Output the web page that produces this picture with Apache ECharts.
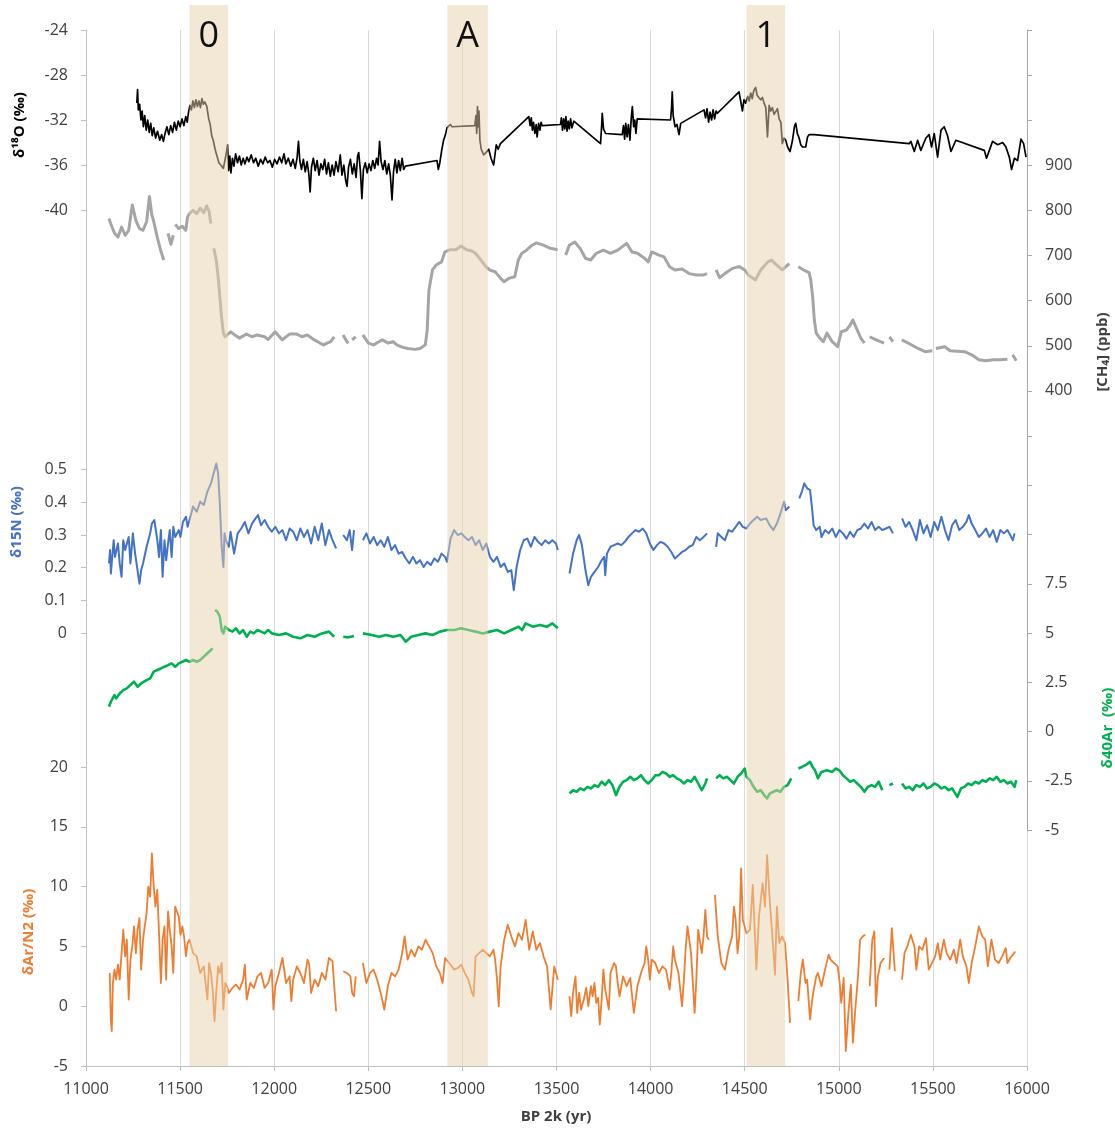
<!DOCTYPE html>
<html>
<head>
<meta charset="utf-8">
<title>Ice core records 11000-16000 BP</title>
<script src="https://cdn.jsdelivr.net/npm/echarts@6.0.0/dist/echarts.min.js"></script>
<style>
  html, body { margin: 0; padding: 0; background: #fff; }
  #container { width: 1115px; height: 1131px; }
</style>
</head>
<body>
<div id="container"></div>
<script>
// shaded events (years BP 2k) and their labels
var bandRanges = [[11550, 11755], [12920, 13135], [14510, 14715]];
var bandLabels = ['0', 'A', '1'];

var xTicks = [11000, 16000, 500];

// d18O (permil), black
var d18O = [
  [11270,-30.5],[11274,-29.3],[11278,-31.1],[11285,-30.6],[11292,-32.0],[11298,-31.2],[11305,-32.6],[11312,-31.6],
  [11320,-32.9],[11328,-32.0],[11336,-33.1],[11344,-32.3],[11352,-33.4],[11360,-32.7],[11370,-33.6],[11380,-33.0],
  [11392,-33.8],[11402,-33.3],[11411,-33.9],[11420,-33.2],[11430,-32.6],[11440,-33.3],[11450,-32.5],[11460,-33.1],
  [11470,-32.2],[11480,-32.9],[11490,-32.1],[11500,-32.6],[11510,-31.9],[11520,-32.5],[11530,-31.7],[11538,-32.2],
  [11544,-31.4],[11552,-30.7],[11560,-31.1],[11568,-30.3],[11576,-30.9],[11584,-30.2],[11592,-30.8],[11600,-30.3],
  [11608,-30.9],[11616,-30.1],[11624,-30.6],[11632,-30.4],[11642,-30.8],[11652,-31.9],[11660,-32.4],[11668,-33.4],
  [11676,-33.8],[11686,-34.6],[11696,-35.2],[11706,-35.8],[11716,-36.0],[11730,-36.3],[11739,-36.3],[11745,-35.0],
  [11752,-34.2],[11758,-36.5],[11764,-35.2],[11770,-36.7],[11778,-35.4],[11786,-36.1],[11795,-35.0],[11805,-35.8],
  [11815,-35.2],[11825,-36.0],[11835,-35.4],[11845,-35.9],[11855,-35.3],[11865,-35.7],[11878,-35.1],[11890,-35.8],
  [11902,-35.4],[11915,-36.1],[11928,-35.5],[11940,-35.9],[11952,-35.3],[11965,-35.8],[11978,-35.6],[11990,-36.2],
  [12002,-35.5],[12015,-35.9],[12028,-35.3],[12040,-35.8],[12052,-35.0],[12062,-35.9],[12075,-35.4],[12088,-36.1],
  [12100,-35.5],[12112,-36.3],[12122,-35.3],[12129,-33.9],[12136,-35.6],[12145,-36.4],[12155,-35.5],[12165,-36.6],
  [12175,-35.7],[12184,-36.8],[12191,-38.4],[12198,-36.2],[12208,-35.4],[12218,-36.5],[12228,-35.6],[12238,-36.9],
  [12248,-35.9],[12258,-36.4],[12268,-35.5],[12278,-36.8],[12288,-35.8],[12298,-37.0],[12308,-36.0],[12318,-36.9],
  [12328,-35.7],[12340,-36.6],[12351,-35.1],[12360,-36.9],[12370,-36.0],[12380,-37.4],[12387,-37.9],[12395,-36.2],
  [12405,-35.5],[12415,-36.8],[12425,-35.9],[12435,-37.1],[12443,-35.2],[12449,-34.9],[12458,-36.5],[12466,-39.0],
  [12474,-36.4],[12484,-35.8],[12494,-36.7],[12504,-35.9],[12514,-36.5],[12524,-35.6],[12534,-36.3],[12544,-35.4],
  [12552,-36.0],[12560,-33.9],[12568,-35.7],[12578,-36.4],[12588,-35.6],[12598,-36.8],[12608,-35.9],[12617,-36.9],
  [12626,-39.1],[12634,-36.6],[12643,-35.5],[12652,-36.7],[12661,-35.6],[12670,-36.5],[12680,-35.4],[12688,-36.4],
  [12697,-36.1],[12865,-35.6],[12872,-36.4],[12880,-35.8],[12890,-34.7],[12900,-33.8],[12910,-33.3],[12918,-32.7],
  [12936,-32.4],[12945,-32.6],[13066,-32.5],[13072,-31.6],[13076,-33.2],[13080,-30.8],[13084,-32.6],[13088,-31.2],
  [13093,-33.8],[13100,-34.6],[13113,-35.1],[13125,-34.9],[13140,-34.6],[13152,-35.4],[13166,-36.0],[13180,-34.2],
  [13190,-34.6],[13202,-34.1],[13353,-31.7],[13360,-32.5],[13366,-31.8],[13372,-32.9],[13378,-32.2],[13385,-33.2],
  [13392,-32.4],[13397,-33.5],[13405,-32.3],[13412,-32.9],[13418,-32.2],[13424,-32.5],[13521,-32.4],[13526,-31.8],
  [13532,-32.9],[13538,-31.9],[13544,-32.8],[13550,-31.7],[13556,-33.0],[13562,-32.1],[13568,-32.8],[13575,-31.9],
  [13582,-32.7],[13592,-32.1],[13734,-34.1],[13740,-32.5],[13743,-31.4],[13750,-32.8],[13761,-33.2],[13849,-33.3],
  [13856,-32.5],[13862,-33.7],[13868,-32.3],[13875,-33.5],[13882,-32.4],[13890,-33.8],[13897,-31.9],[13903,-30.8],
  [13910,-32.6],[13916,-32.0],[13922,-33.2],[13929,-31.9],[14106,-32.0],[14111,-31.0],[14115,-29.5],[14120,-31.6],
  [14130,-32.6],[14140,-32.4],[14151,-33.3],[14160,-32.3],[14284,-31.1],[14292,-31.8],[14300,-31.0],[14308,-32.2],
  [14316,-31.3],[14324,-32.0],[14332,-31.1],[14340,-31.9],[14348,-31.2],[14355,-31.4],[14470,-29.5],[14479,-29.6],
  [14488,-31.2],[14496,-30.2],[14505,-30.5],[14509,-30.4],[14516,-29.9],[14524,-30.3],[14532,-29.6],[14540,-30.1],
  [14548,-29.4],[14558,-29.1],[14566,-29.8],[14575,-30.0],[14585,-30.2],[14594,-30.0],[14603,-30.5],[14612,-30.9],
  [14621,-33.5],[14630,-30.7],[14638,-31.2],[14647,-30.9],[14656,-31.5],[14665,-31.6],[14674,-31.0],[14683,-31.9],
  [14692,-32.2],[14700,-34.1],[14709,-33.6],[14718,-33.8],[14728,-34.4],[14741,-34.8],[14754,-33.8],[14764,-32.6],
  [14771,-32.3],[14780,-33.2],[14789,-33.6],[14798,-34.2],[14807,-34.4],[14816,-34.5],[14824,-34.4],[14834,-33.5],
  [14842,-33.3],[14855,-33.3],[14869,-33.3],[15374,-34.1],[15383,-33.9],[15401,-34.8],[15419,-33.8],[15436,-34.7],
  [15463,-33.6],[15480,-33.3],[15493,-34.4],[15507,-33.2],[15525,-35.3],[15543,-32.9],[15560,-32.6],[15578,-33.4],
  [15596,-34.8],[15622,-33.8],[15773,-34.7],[15785,-35.4],[15817,-33.9],[15844,-34.2],[15871,-34.0],[15888,-34.4],
  [15906,-35.3],[15918,-36.4],[15933,-35.4],[15950,-35.6],[15968,-33.7],[15982,-34.1],[15995,-35.3]
];

// [CH4] (ppb), grey
var ch4 = [
  [11122,782],[11131,771],[11151,750],[11170,741],[11189,763],[11208,745],[11227,756],[11246,812],[11265,778],
  [11284,760],[11303,756],[11322,775],[11337,831],[11350,790],[11360,775],[11379,740],[11398,710],[11413,690],
  [11425,null],[11436,749],[11451,725],[11464,745],[11468,null],[11474,769],[11493,760],[11512,765],[11530,756],
  [11540,786],[11550,793],[11569,800],[11588,793],[11607,805],[11626,795],[11641,810],[11654,798],[11663,771],
  [11670,null],[11679,716],[11692,690],[11702,653],[11711,610],[11720,564],[11730,528],[11739,520],[11768,531],
  [11797,522],[11815,517],[11853,526],[11882,520],[11910,524],[11949,520],[11967,514],[12005,531],[12043,513],
  [12081,526],[12119,526],[12148,520],[12176,524],[12214,513],[12243,506],[12262,502],[12281,506],[12300,509],
  [12319,520],[12340,null],[12366,524],[12385,510],[12395,506],[12405,null],[12414,513],[12433,520],[12450,null],
  [12471,524],[12500,506],[12528,502],[12556,509],[12575,513],[12604,506],[12632,509],[12651,502],[12680,497],
  [12709,494],[12747,492],[12775,494],[12803,502],[12813,535],[12822,623],[12841,668],[12860,679],[12889,686],
  [12907,708],[12936,713],[12965,713],[12993,721],[13022,713],[13050,710],[13069,705],[13098,690],[13126,675],
  [13145,668],[13174,664],[13202,650],[13221,642],[13250,650],[13278,653],[13297,690],[13316,705],[13335,710],
  [13364,721],[13392,728],[13430,723],[13468,716],[13506,713],[13530,null],
  [13549,701],[13568,723],[13597,730],[13625,716],[13654,694],[13682,690],[13711,705],[13749,712],[13787,705],
  [13825,712],[13873,727],[13901,708],[13930,705],[13968,694],[13987,686],[14006,708],[14044,701],[14072,697],
  [14101,675],[14129,668],[14167,670],[14205,660],[14243,657],[14281,657],[14300,660],[14320,null],[14348,668],
  [14367,651],[14395,660],[14433,671],[14471,676],[14500,668],[14519,657],[14557,646],[14585,668],[14623,686],
  [14642,690],[14671,679],[14699,668],[14737,682],[14755,null],[14785,675],[14813,668],[14842,662],[14851,646],
  [14861,609],[14870,557],[14880,528],[14899,517],[14918,509],[14937,528],[14965,509],[14994,498],[15013,531],
  [15041,535],[15060,546],[15075,557],[15098,535],[15117,517],[15136,506],[15150,null],[15164,520],[15193,514],
  [15221,509],[15240,506],[15255,null],[15269,520],[15288,509],[15310,null],[15335,513],[15373,505],[15421,494],
  [15459,487],[15497,489],[15507,null],[15516,494],[15563,498],[15592,489],[15630,488],[15668,487],[15706,480],
  [15744,469],[15782,467],[15820,469],[15858,469],[15896,470],[15910,null],[15924,480],[15943,467]
];

// d15N (permil), blue
var d15N = [
  [11122,0.213],[11128,0.254],[11132,0.182],[11147,0.284],[11154,0.233],[11170,0.274],[11179,0.213],[11189,0.172],
  [11198,0.284],[11208,0.254],[11227,0.294],[11236,0.213],[11249,0.305],[11261,0.243],[11274,0.192],[11284,0.151],
  [11293,0.192],[11303,0.213],[11322,0.264],[11341,0.305],[11350,0.335],[11363,0.346],[11379,0.284],[11388,0.233],
  [11398,0.315],[11407,0.172],[11417,0.284],[11426,0.223],[11436,0.274],[11445,0.315],[11455,0.233],[11464,0.325],
  [11474,0.294],[11493,0.315],[11502,0.294],[11515,0.340],[11531,0.356],[11540,0.325],[11550,0.346],[11569,0.387],
  [11588,0.371],[11607,0.402],[11626,0.392],[11645,0.433],[11664,0.458],[11683,0.499],[11692,0.519],[11702,0.489],
  [11711,0.397],[11721,0.264],[11730,0.202],[11736,0.305],[11743,0.284],[11759,0.264],[11768,0.310],[11787,0.243],
  [11806,0.305],[11825,0.320],[11844,0.340],[11863,0.305],[11882,0.335],[11901,0.351],[11914,0.361],[11930,0.330],
  [11949,0.346],[11968,0.325],[11987,0.310],[12006,0.325],[12025,0.305],[12044,0.315],[12063,0.284],[12082,0.320],
  [12101,0.310],[12120,0.284],[12139,0.320],[12158,0.294],[12177,0.315],[12196,0.274],[12215,0.325],[12234,0.284],
  [12253,0.335],[12272,0.269],[12291,0.315],[12310,0.284],[12329,0.259],[12340,null],[12367,0.300],[12386,0.284],
  [12401,0.315],[12414,0.254],[12424,0.315],[12440,null],[12471,0.284],[12490,0.305],[12509,0.274],[12528,0.294],
  [12547,0.269],[12566,0.284],[12585,0.264],[12604,0.294],[12623,0.254],[12642,0.269],[12661,0.243],[12680,0.248],
  [12699,0.228],[12718,0.213],[12737,0.233],[12756,0.213],[12775,0.223],[12794,0.202],[12813,0.218],[12832,0.208],
  [12851,0.228],[12870,0.218],[12889,0.243],[12908,0.233],[12918,0.218],[12937,0.289],[12956,0.315],[12975,0.300],
  [12994,0.305],[13013,0.294],[13032,0.284],[13051,0.294],[13070,0.269],[13089,0.284],[13108,0.254],[13127,0.274],
  [13146,0.233],[13165,0.218],[13184,0.233],[13203,0.202],[13222,0.213],[13241,0.187],[13260,0.192],[13273,0.131],
  [13288,0.202],[13307,0.254],[13326,0.284],[13345,0.289],[13364,0.264],[13383,0.294],[13402,0.279],[13421,0.269],
  [13440,0.284],[13459,0.274],[13478,0.284],[13497,0.274],[13507,0.254],[13540,null],
  [13569,0.182],[13588,0.243],[13607,0.284],[13620,0.300],[13635,0.269],[13645,0.274],[13654,0.192],[13669,0.146],
  [13683,0.172],[13702,0.187],[13721,0.202],[13740,0.223],[13753,0.233],[13759,0.177],[13768,0.243],[13787,0.264],
  [13806,0.269],[13825,0.274],[13844,0.269],[13863,0.279],[13882,0.294],[13901,0.305],[13920,0.315],[13939,0.310],
  [13958,0.320],[13977,0.305],[13996,0.274],[14015,0.254],[14034,0.269],[14053,0.279],[14072,0.274],[14091,0.264],
  [14110,0.248],[14129,0.228],[14148,0.238],[14167,0.248],[14186,0.254],[14205,0.264],[14224,0.269],[14243,0.294],
  [14262,0.284],[14281,0.294],[14300,0.305],[14320,null],[14348,0.264],[14357,0.305],[14376,0.294],[14395,0.284],
  [14414,0.315],[14433,0.310],[14452,0.325],[14471,0.340],[14490,0.325],[14509,0.320],[14528,0.335],[14547,0.346],
  [14566,0.356],[14585,0.346],[14614,0.351],[14633,0.330],[14652,0.315],[14671,0.335],[14690,0.366],[14709,0.402],
  [14718,0.376],[14737,0.387],[14755,null],[14790,0.412],[14804,0.433],[14817,0.458],[14832,0.443],[14847,0.438],
  [14857,0.387],[14866,0.330],[14880,0.315],[14899,0.325],[14908,0.294],[14927,0.315],[14946,0.305],[14965,0.320],
  [14984,0.294],[15003,0.315],[15022,0.305],[15041,0.289],[15060,0.310],[15079,0.294],[15098,0.315],[15117,0.320],
  [15136,0.335],[15155,0.320],[15174,0.340],[15193,0.315],[15212,0.325],[15231,0.315],[15250,0.320],[15269,0.325],
  [15288,0.305],[15310,null],[15336,0.351],[15355,0.325],[15374,0.340],[15393,0.315],[15412,0.284],[15431,0.346],
  [15450,0.305],[15469,0.330],[15488,0.294],[15507,0.340],[15526,0.315],[15545,0.356],[15564,0.315],[15583,0.284],
  [15602,0.330],[15621,0.346],[15640,0.315],[15659,0.325],[15678,0.340],[15691,0.361],[15706,0.335],[15725,0.315],
  [15744,0.294],[15763,0.305],[15782,0.320],[15801,0.294],[15820,0.315],[15839,0.279],[15858,0.315],[15877,0.305],
  [15896,0.315],[15911,0.300],[15925,0.284],[15934,0.305]
];

// d40Ar (permil), green
var d40Ar = [
  [11122,1.26],[11132,1.51],[11151,1.85],[11160,1.68],[11179,1.93],[11198,2.10],[11217,2.19],[11236,2.36],
  [11255,2.53],[11274,2.27],[11293,2.44],[11322,2.61],[11341,2.70],[11360,3.04],[11379,3.12],[11398,3.20],
  [11417,3.29],[11436,3.37],[11455,3.46],[11474,3.29],[11493,3.46],[11512,3.54],[11531,3.63],[11550,3.54],
  [11569,3.63],[11588,3.54],[11607,3.63],[11626,3.80],[11645,3.97],[11664,4.14],[11673,4.22],[11680,null],
  [11686,6.17],[11698,6.08],[11711,5.83],[11721,5.15],[11730,4.98],[11740,5.32],[11759,5.15],[11778,5.07],
  [11797,5.24],[11816,4.98],[11835,5.15],[11854,4.81],[11873,5.07],[11892,4.98],[11911,5.15],[11930,5.07],
  [11949,4.98],[11968,5.15],[11987,4.98],[12025,4.90],[12063,4.98],[12101,4.81],[12139,4.73],[12177,4.90],
  [12215,4.81],[12253,4.98],[12291,5.07],[12319,4.81],[12340,null],[12367,4.81],[12395,4.78],[12424,4.85],
  [12445,null],[12471,4.98],[12519,4.90],[12557,4.81],[12595,4.90],[12633,4.81],[12671,4.90],[12699,4.56],
  [12728,4.81],[12766,4.90],[12804,4.98],[12842,4.90],[12880,5.07],[12918,5.15],[12956,5.15],[12994,5.24],
  [13032,5.15],[13070,5.07],[13108,4.98],[13146,5.07],[13184,5.15],[13222,4.98],[13260,5.15],[13298,5.32],
  [13317,5.15],[13336,5.49],[13374,5.32],[13412,5.41],[13450,5.32],[13478,5.49],[13507,5.24],[13540,null],
  [13569,-3.15],[13588,-2.98],[13607,-3.06],[13626,-2.89],[13645,-2.98],[13664,-2.81],[13683,-2.89],[13702,-2.72],
  [13721,-2.81],[13740,-2.55],[13759,-2.72],[13778,-2.47],[13797,-2.72],[13816,-3.23],[13835,-2.81],[13854,-2.55],
  [13873,-2.47],[13892,-2.30],[13911,-2.47],[13930,-2.38],[13949,-2.22],[13968,-2.47],[13987,-2.64],[14006,-2.47],
  [14025,-2.22],[14044,-2.22],[14063,-2.05],[14082,-2.13],[14101,-2.30],[14120,-2.22],[14139,-2.38],[14158,-2.47],
  [14177,-2.64],[14196,-2.47],[14215,-2.55],[14234,-2.30],[14253,-2.64],[14272,-2.98],[14291,-2.64],[14300,-2.38],
  [14320,null],[14348,-2.38],[14367,-2.22],[14386,-2.38],[14405,-2.30],[14424,-2.47],[14443,-2.64],[14462,-2.30],
  [14481,-2.13],[14500,-1.88],[14509,-2.30],[14528,-2.47],[14547,-2.81],[14566,-3.06],[14585,-2.98],[14604,-3.23],
  [14619,-3.40],[14633,-3.15],[14652,-3.06],[14671,-2.98],[14690,-3.06],[14709,-2.81],[14728,-2.72],[14747,-2.38],
  [14760,null],[14785,-1.88],[14804,-1.80],[14823,-1.71],[14847,-1.54],[14861,-1.80],[14874,-1.97],[14889,-2.38],
  [14908,-2.05],[14937,-1.97],[14965,-2.05],[14984,-1.88],[15003,-1.97],[15022,-2.22],[15041,-2.38],[15060,-2.55],
  [15079,-2.47],[15098,-2.64],[15117,-2.81],[15136,-3.06],[15155,-2.81],[15174,-2.72],[15193,-2.81],[15212,-2.55],
  [15231,-2.98],[15245,null],[15269,-2.72],[15288,-2.64],[15300,null],[15336,-2.64],[15355,-2.89],[15374,-2.81],
  [15393,-2.98],[15412,-2.72],[15431,-2.81],[15450,-2.64],[15469,-2.89],[15488,-2.81],[15507,-2.64],[15526,-2.72],
  [15545,-2.89],[15564,-2.81],[15583,-2.98],[15602,-2.89],[15630,-3.32],[15649,-2.89],[15668,-2.81],[15687,-2.64],
  [15706,-2.72],[15725,-2.55],[15744,-2.64],[15763,-2.47],[15782,-2.55],[15801,-2.38],[15820,-2.47],[15839,-2.30],
  [15858,-2.55],[15877,-2.47],[15896,-2.64],[15915,-2.55],[15934,-2.81],[15943,-2.47]
];

// dAr/N2 (permil), orange
var dArN2 = [
  [11126,2.78],[11132,-1.11],[11137,-2.08],[11143,1.94],[11151,3.06],[11160,2.22],[11170,3.47],[11179,2.22],
  [11189,4.44],[11198,6.39],[11208,4.17],[11217,5.56],[11227,0.56],[11236,3.89],[11246,5.00],[11255,6.67],
  [11265,4.44],[11274,6.39],[11284,7.36],[11293,3.06],[11303,5.56],[11312,6.67],[11322,7.78],[11331,10.0],
  [11341,9.17],[11350,12.78],[11360,10.0],[11369,8.33],[11379,9.72],[11388,6.11],[11398,1.94],[11407,5.56],
  [11417,6.67],[11426,2.22],[11436,7.92],[11445,6.39],[11455,5.00],[11464,2.78],[11474,8.33],[11483,7.92],
  [11493,7.50],[11502,5.97],[11512,6.67],[11521,5.83],[11531,4.17],[11540,5.28],[11550,5.56],[11569,4.44],
  [11588,4.17],[11607,2.78],[11626,3.33],[11635,1.94],[11645,0.56],[11654,3.61],[11664,2.78],[11673,1.39],
  [11683,-1.25],[11692,1.11],[11702,3.33],[11711,2.78],[11721,3.61],[11730,-0.28],[11740,1.94],[11749,1.67],
  [11759,1.11],[11778,1.53],[11797,1.81],[11816,1.39],[11835,2.22],[11844,3.47],[11854,0.56],[11873,1.94],
  [11892,1.53],[11911,2.50],[11930,2.78],[11949,1.53],[11968,1.94],[11987,3.06],[11996,-0.28],[12006,1.67],
  [12025,2.78],[12044,4.03],[12063,1.94],[12082,2.50],[12091,0.42],[12101,2.22],[12120,3.33],[12139,2.78],
  [12158,1.94],[12177,3.89],[12186,3.47],[12196,1.11],[12215,2.22],[12234,1.67],[12253,2.78],[12272,2.22],
  [12291,4.03],[12310,3.75],[12319,1.67],[12329,-0.42],[12345,null],[12367,2.92],[12386,2.78],[12405,2.50],
  [12414,1.11],[12424,0.83],[12433,2.50],[12450,null],[12471,3.61],[12490,1.94],[12509,2.78],[12528,3.06],
  [12547,2.22],[12566,1.11],[12585,-0.28],[12604,1.67],[12623,2.78],[12642,2.50],[12661,3.06],[12680,4.44],
  [12693,5.83],[12709,3.89],[12728,4.72],[12747,4.17],[12766,5.00],[12785,4.72],[12804,5.56],[12823,5.00],
  [12842,4.44],[12861,3.33],[12880,2.78],[12895,1.94],[12908,4.03],[12937,3.47],[12956,3.06],[12975,3.19],
  [12994,3.47],[13013,2.78],[13032,2.22],[13051,1.11],[13060,0.83],[13070,4.17],[13089,4.44],[13108,4.72],
  [13127,4.44],[13146,4.17],[13165,4.72],[13174,3.89],[13184,2.22],[13193,0.00],[13203,3.33],[13222,5.56],
  [13241,6.81],[13260,5.83],[13279,5.00],[13298,6.11],[13317,5.56],[13336,7.22],[13355,4.72],[13374,6.25],
  [13393,4.72],[13412,5.28],[13431,4.17],[13450,3.33],[13469,-0.28],[13488,3.33],[13507,2.22],[13540,null],
  [13569,0.83],[13578,-0.83],[13588,1.11],[13601,2.50],[13610,-0.56],[13620,1.11],[13631,-0.28],[13645,0.56],
  [13658,1.53],[13669,0.00],[13683,1.67],[13692,0.83],[13702,1.94],[13711,0.28],[13721,0.69],[13730,-1.53],
  [13740,0.56],[13749,3.06],[13759,1.39],[13778,-0.28],[13787,2.78],[13806,3.61],[13816,3.33],[13825,1.94],
  [13835,0.83],[13854,2.50],[13873,1.67],[13892,2.36],[13911,-0.56],[13930,1.67],[13949,2.78],[13968,3.61],
  [13977,5.00],[13987,3.89],[13996,2.22],[14006,3.89],[14025,3.61],[14044,2.78],[14063,3.33],[14082,3.06],
  [14101,1.39],[14110,2.78],[14120,5.00],[14129,3.89],[14148,2.78],[14167,0.00],[14177,2.22],[14186,4.72],
  [14196,6.67],[14215,4.44],[14234,-0.56],[14243,2.22],[14253,6.39],[14272,4.44],[14281,5.83],[14291,8.06],
  [14300,5.83],[14310,5.56],[14325,null],[14342,9.31],[14357,5.83],[14376,3.61],[14395,3.06],[14414,4.72],
  [14433,5.83],[14443,8.33],[14452,7.22],[14462,4.44],[14471,5.83],[14481,11.53],[14490,7.22],[14509,6.11],
  [14528,6.39],[14543,10.14],[14562,3.06],[14576,7.50],[14595,10.28],[14608,8.33],[14619,12.64],[14633,8.89],
  [14652,4.72],[14661,2.64],[14671,8.33],[14684,5.28],[14699,5.83],[14714,5.28],[14728,2.22],[14741,-1.39],
  [14760,null],[14785,0.42],[14798,2.78],[14809,3.89],[14823,1.94],[14832,2.22],[14847,-1.11],[14861,0.83],
  [14880,2.50],[14889,2.78],[14908,1.67],[14927,3.06],[14946,4.31],[14956,3.89],[14975,3.61],[14994,3.33],
  [15003,2.22],[15013,0.28],[15026,2.36],[15037,-3.75],[15051,-0.56],[15064,1.81],[15075,-3.06],[15089,0.00],
  [15102,2.50],[15113,5.56],[15127,5.83],[15140,5.97],[15150,null],[15164,1.67],[15178,5.56],[15189,6.25],
  [15197,0.00],[15208,2.50],[15222,3.61],[15241,4.03],[15255,null],[15269,3.06],[15282,6.53],[15298,2.92],
  [15315,null],[15336,2.22],[15349,4.44],[15364,5.00],[15383,5.97],[15402,5.00],[15412,3.06],[15427,5.00],
  [15444,4.72],[15463,5.69],[15478,3.06],[15512,4.17],[15526,5.28],[15539,3.89],[15558,5.56],[15573,4.44],
  [15592,3.89],[15611,4.72],[15626,3.61],[15645,5.56],[15659,4.17],[15678,3.33],[15691,1.94],[15706,3.61],
  [15725,5.00],[15744,6.67],[15763,5.83],[15778,5.56],[15792,3.33],[15811,5.56],[15830,3.89],[15849,3.61],
  [15868,4.17],[15887,4.86],[15896,3.61],[15911,4.03],[15925,4.31],[15938,4.58]
];

// tick labels shown on each value axis
var d18OTicks = [-40, -36, -32, -28, -24];
var ch4Labels = [400, 500, 600, 700, 800, 900];
var d15NTicks = [0, 0.1, 0.2, 0.3, 0.4, 0.5];
var d40ArLabels = [-5, -2.5, 0, 2.5, 5, 7.5];
var dArN2Ticks = [-5, 0, 5, 10, 15, 20];

(function () {
    var dom = document.getElementById('container');
    var myChart = echarts.init(dom, null, { renderer: 'canvas' });
    var font = '"Open Sans", "DejaVu Sans", sans-serif';
    var tickText = { color: '#404040', fontSize: 16, fontFamily: font };
    var lineGrey = '#bfbfbf';

    function hiddenX(i) {
        return { type: 'value', gridIndex: i, min: xTicks[0], max: xTicks[1], show: false };
    }
    function lineSeries(name, data, idx, color, width) {
        return {
            name: name, type: 'line', data: data,
            xAxisIndex: idx, yAxisIndex: idx,
            showSymbol: false, symbol: 'none', connectNulls: false,
            lineStyle: { color: color, width: width, join: 'round' },
            z: 2, silent: true
        };
    }
    function titleText(text, x, y, color, rot) {
        return {
            type: 'text', x: x, y: y, rotation: rot,
            style: {
                text: text, fill: color, align: 'center', verticalAlign: 'middle',
                font: 'bold 15px ' + font
            }
        };
    }

    var option = {
        animation: false,
        backgroundColor: '#fff',
        grid: [
            { left: 86, right: 88, top: 30, bottom: 65 },
            { left: 86, right: 88, top: 30, height: 180 },
            { left: 86, right: 88, top: 30, height: 406 },
            { left: 86, right: 88, top: 437, height: 196 },
            { left: 86, right: 88, top: 436, height: 394 },
            { left: 86, right: 88, top: 767, height: 299 }
        ],
        xAxis: [
            {
                type: 'value', gridIndex: 0, min: xTicks[0], max: xTicks[1], interval: xTicks[2],
                axisLine: { lineStyle: { color: lineGrey } },
                axisTick: { show: true, length: 5, lineStyle: { color: lineGrey } },
                axisLabel: Object.assign({ margin: 15, formatter: function (v) { return String(v); } }, tickText),
                splitLine: { show: true, lineStyle: { color: '#d9d9d9', width: 1 } }
            },
            hiddenX(1), hiddenX(2), hiddenX(3), hiddenX(4), hiddenX(5)
        ],
        yAxis: [
            {
                type: 'value', gridIndex: 0, min: 0, max: 1, position: 'left',
                axisLine: { show: true, lineStyle: { color: lineGrey } },
                axisTick: { show: false }, axisLabel: { show: false }, splitLine: { show: false }
            },
            {
                type: 'value', gridIndex: 1, min: -40, max: -24, interval: 4, position: 'left',
                axisLine: { show: false },
                axisTick: { show: true, length: 5, lineStyle: { color: lineGrey }, customValues: d18OTicks },
                axisLabel: Object.assign({ margin: 18, customValues: d18OTicks }, tickText),
                splitLine: { show: false }
            },
            {
                type: 'value', gridIndex: 2, min: 300, max: 1200, interval: 100, position: 'right',
                axisLine: { show: true, lineStyle: { color: '#a6a6a6' } },
                axisTick: { show: true, length: 5, lineStyle: { color: '#a6a6a6' } },
                axisLabel: Object.assign({ margin: 18, customValues: ch4Labels }, tickText),
                splitLine: { show: false }
            },
            {
                type: 'value', gridIndex: 3, min: 0, max: 0.6, interval: 0.1, position: 'left',
                axisLine: { show: false },
                axisTick: { show: true, length: 5, lineStyle: { color: lineGrey }, customValues: d15NTicks },
                axisLabel: Object.assign({ margin: 19, customValues: d15NTicks }, tickText),
                splitLine: { show: false }
            },
            {
                type: 'value', gridIndex: 4, min: -5, max: 15, interval: 2.5, position: 'right',
                axisLine: { show: true, lineStyle: { color: '#a6a6a6' } },
                axisTick: { show: true, length: 5, lineStyle: { color: '#a6a6a6' } },
                axisLabel: Object.assign({ margin: 18, customValues: d40ArLabels }, tickText),
                splitLine: { show: false }
            },
            {
                type: 'value', gridIndex: 5, min: -5, max: 20, interval: 5, position: 'left',
                axisLine: { show: false },
                axisTick: { show: true, length: 5, lineStyle: { color: lineGrey }, customValues: dArN2Ticks },
                axisLabel: Object.assign({ margin: 18, customValues: dArN2Ticks }, tickText),
                splitLine: { show: false }
            }
        ],
        graphic: [
            titleText('δ¹⁸O (‰)', 20, 125, '#000000', Math.PI / 2),
            titleText('δ15N (‰)', 17, 522, '#4472c4', Math.PI / 2),
            titleText('δAr/N2 (‰)', 29, 932, '#ed7d31', Math.PI / 2),
            titleText('[CH₄] (ppb)', 1103, 352, '#404040', Math.PI / 2),
            titleText('δ40Ar  (‰)', 1108, 728, '#00b050', Math.PI / 2),
            titleText('BP 2k (yr)', 556, 1117, '#404040', 0)
        ],
        series: [
            lineSeries('δ18O', d18O, 1, '#000000', 1.7),
            lineSeries('CH4', ch4, 2, '#a5a5a5', 3),
            lineSeries('δ15N', d15N, 3, '#4472c4', 2),
            lineSeries('δ40Ar', d40Ar, 4, '#00b050', 2.6),
            lineSeries('δAr/N2', dArN2, 5, '#ed7d31', 1.8),
            {
                name: 'events', type: 'custom', xAxisIndex: 0, yAxisIndex: 0,
                data: bandRanges, z: 10, silent: true,
                renderItem: function (params, api) {
                    var x0 = api.coord([api.value(0), 0])[0];
                    var x1 = api.coord([api.value(1), 0])[0];
                    var cs = params.coordSys;
                    var top = cs.y - 25;
                    var bottom = cs.y + cs.height;
                    return {
                        type: 'group',
                        children: [
                            {
                                type: 'rect',
                                shape: { x: x0, y: top, width: x1 - x0, height: bottom - top },
                                style: { fill: 'rgba(231,209,171,0.5)' }
                            },
                            {
                                type: 'text',
                                style: {
                                    text: bandLabels[params.dataIndex],
                                    x: (x0 + x1) / 2, y: top + 32,
                                    align: 'center', verticalAlign: 'middle',
                                    font: '36px ' + font, fill: '#111'
                                }
                            }
                        ]
                    };
                }
            }
        ]
    };
    myChart.setOption(option, true);
})();
</script>
</body>
</html>
